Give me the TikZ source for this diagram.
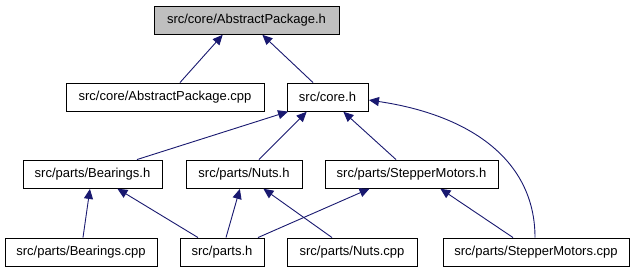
\documentclass[tikz,border=0pt]{standalone}
\usepackage{fontspec}
\setmainfont{Liberation Sans}
\usetikzlibrary{arrows.meta}
\definecolor{edgeblue}{HTML}{191970}
\definecolor{focusgray}{HTML}{BFBFBF}
\tikzset{
  file/.style={draw=black, line width=0.9pt, fill=white, inner sep=0pt,
    minimum height=28pt, font=\fontsize{13}{15}\selectfont},
  focus/.style={file, fill=focusgray},
  dep/.style={draw=edgeblue, line width=0.9pt,
    -{Triangle[length=10pt,width=9pt]}, shorten >=0.5pt}
}
\begin{document}
\begin{tikzpicture}[x=1pt, y=-1pt]
\useasboundingbox (0,0) rectangle (635,272);
\fill[white] (0,0) rectangle (635,272);

% files
\node[focus, minimum width=185pt] (aph)   at (246.5,20)  {src/core/AbstractPackage.h};
\node[file,  minimum width=198pt] (apcpp) at (165,97)    {src/core/AbstractPackage.cpp};
\node[file,  minimum width=81pt]  (core)  at (327.5,97)  {src/core.h};
\node[file,  minimum width=139pt] (bh)    at (92.5,174)  {src/parts/Bearings.h};
\node[file,  minimum width=116pt] (nh)    at (244,174)   {src/parts/Nuts.h};
\node[file,  minimum width=173pt] (smh)   at (411.5,174) {src/parts/StepperMotors.h};
\node[file,  minimum width=152pt] (bcpp)  at (81,252)    {src/parts/Bearings.cpp};
\node[file,  minimum width=84pt]  (parts) at (222,252)   {src/parts.h};
\node[file,  minimum width=130pt] (ncpp)  at (352,252)   {src/parts/Nuts.cpp};
\node[file,  minimum width=186pt] (smcpp) at (536,252)   {src/parts/StepperMotors.cpp};

% include relations
\draw[dep] ([xshift=15pt]apcpp.north) -- ([xshift=-23.5pt]aph.south);
\draw[dep] ([xshift=-14.5pt]core.north) -- ([xshift=15.5pt]aph.south);
\draw[dep] ([xshift=44.5pt]bh.north) -- ([xshift=2pt]core.south west);
\draw[dep] ([xshift=15pt]nh.north) -- ([xshift=-20.5pt]core.south);
\draw[dep] ([xshift=-15.5pt]smh.north) -- ([xshift=15.5pt]core.south);
\draw[dep] ([xshift=-1pt]smcpp.north) .. controls (535,160) and (470,115) .. ([yshift=-3pt]core.east);
\draw[dep] ([xshift=2pt]bcpp.north) -- ([xshift=-2.5pt]bh.south);
\draw[dep] ([xshift=-24pt]parts.north) -- ([xshift=24.5pt]bh.south);
\draw[dep] ([xshift=4pt]parts.north) -- ([xshift=-4pt]nh.south);
\draw[dep] ([xshift=36pt]parts.north) -- ([xshift=-41.5pt]smh.south);
\draw[dep] ([xshift=-20pt]ncpp.north) -- ([xshift=19pt]nh.south);
\draw[dep] ([xshift=-23pt]smcpp.north) -- ([xshift=28.5pt]smh.south);
\end{tikzpicture}
\end{document}
